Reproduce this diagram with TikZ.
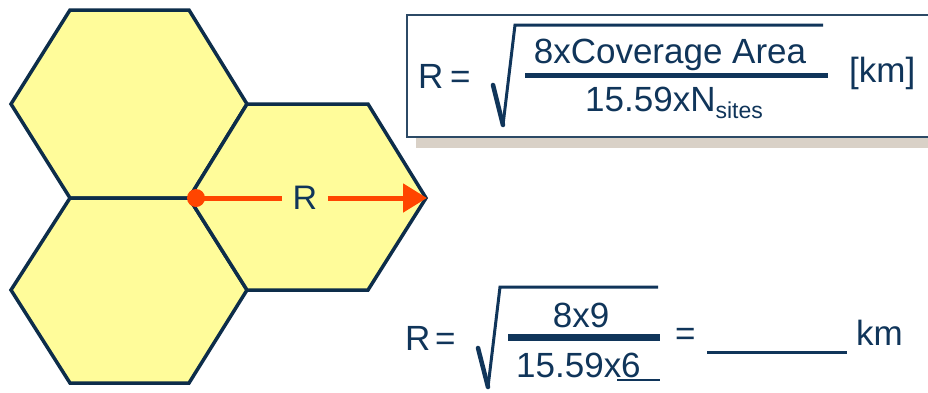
\documentclass[tikz,border=0pt]{standalone}
\usepackage{fontspec}
\setmainfont{Liberation Sans}
\usetikzlibrary{arrows.meta}
\definecolor{hexline}{HTML}{0D2D4A}
\definecolor{hexfill}{HTML}{FFFC9A}
\definecolor{txt}{HTML}{10355A}
\definecolor{boxline}{HTML}{2C4A66}
\definecolor{shadow}{HTML}{D9D1C7}
\definecolor{arrowred}{HTML}{FF4500}
\tikzset{
  hexcell/.style={draw=hexline,fill=hexfill,line width=3.5pt,line join=miter},
  eqtext/.style={inner sep=0pt,text=txt,font=\fontsize{35}{42}\selectfont,anchor=base west},
  eqline/.style={draw=txt},
  redline/.style={draw=arrowred,line width=5pt}
}
\begin{document}
\begin{tikzpicture}[x=1pt,y=-1pt]
\useasboundingbox (0,0) rectangle (928,392);
\clip (0,0) rectangle (928,392);
\fill[white] (0,0) rectangle (928,392);
% hexagons
\draw[hexcell] (70,10) -- (189,10) -- (247,104) -- (189,198) -- (70,198) -- (11,104) -- cycle;
\draw[hexcell] (70,198) -- (189,198) -- (247,290) -- (189,383) -- (70,383) -- (11,290) -- cycle;
\draw[hexcell] (247,104) -- (368,104) -- (426,198) -- (368,290) -- (247,290) -- (189,198) -- cycle;
% radius arrow
\coordinate (ctr) at (196,198);
\coordinate (tip) at (427,198);
\node[inner xsep=10.5pt,inner ysep=0pt,text=txt,font=\fontsize{34}{40}\selectfont] (rlab) at (305,198) {R};
\draw[redline] (ctr) -- (rlab.west);
\draw[redline,-{Triangle[length=24pt,width=28pt]}] (rlab.east) -- (tip);
\fill[arrowred] (ctr) circle (9pt);
% top formula box
\fill[shadow] (416,137) rectangle (940,148);
\draw[draw=boxline,fill=white,line width=2pt] (407,15) rectangle (940,137);
\node[eqtext] (tR) at (418,88) {R};
\node[eqtext] (tEq) at (450,88) {=};
\coordinate (ts1) at (493,85);
\coordinate (ts2) at (503,125);
\coordinate (ts3) at (515,25);
\coordinate (ts4) at (823,25);
\draw[eqline,line width=4.5pt,line cap=round] (ts1) -- (ts2);
\draw[eqline,line width=3pt,line join=miter] (ts2) -- (ts3) -- (ts4);
\node[eqtext,anchor=base] (tNum) at (670,63) {8xCoverage Area};
\coordinate (tb1) at (525,75);
\coordinate (tb2) at (828,75);
\draw[eqline,line width=5pt] (tb1) -- (tb2);
\node[eqtext] (tDen) at (585,111) {15.59xN\raisebox{-7pt}{\fontsize{23}{26}\selectfont sites}};
\node[eqtext] (tKm) at (849,82) {[km]};
% bottom formula
\node[eqtext] (bR) at (405,350) {R};
\node[eqtext] (bEq) at (435,350) {=};
\coordinate (bs1) at (478,348);
\coordinate (bs2) at (488,387);
\coordinate (bs3) at (500,287);
\coordinate (bs4) at (658,287);
\draw[eqline,line width=4.5pt,line cap=round] (bs1) -- (bs2);
\draw[eqline,line width=3pt,line join=miter] (bs2) -- (bs3) -- (bs4);
\node[eqtext,anchor=base] (bNum) at (581,327) {8x9};
\coordinate (bb1) at (508,337);
\coordinate (bb2) at (660,337);
\draw[eqline,line width=7pt] (bb1) -- (bb2);
\node[eqtext] (bDen) at (516,377) {15.59x};
\node[eqtext] (bSix) at (621,377) {6};
\coordinate (bu1) at (617,380);
\coordinate (bu2) at (660,380);
\draw[eqline,line width=2.5pt] (bu1) -- (bu2);
\node[eqtext] (bEq2) at (675,345) {=};
\coordinate (bl1) at (707,352);
\coordinate (bl2) at (847,352);
\draw[eqline,line width=3pt] (bl1) -- (bl2);
\node[eqtext] (bKm) at (856,345) {km};
\end{tikzpicture}
\end{document}
